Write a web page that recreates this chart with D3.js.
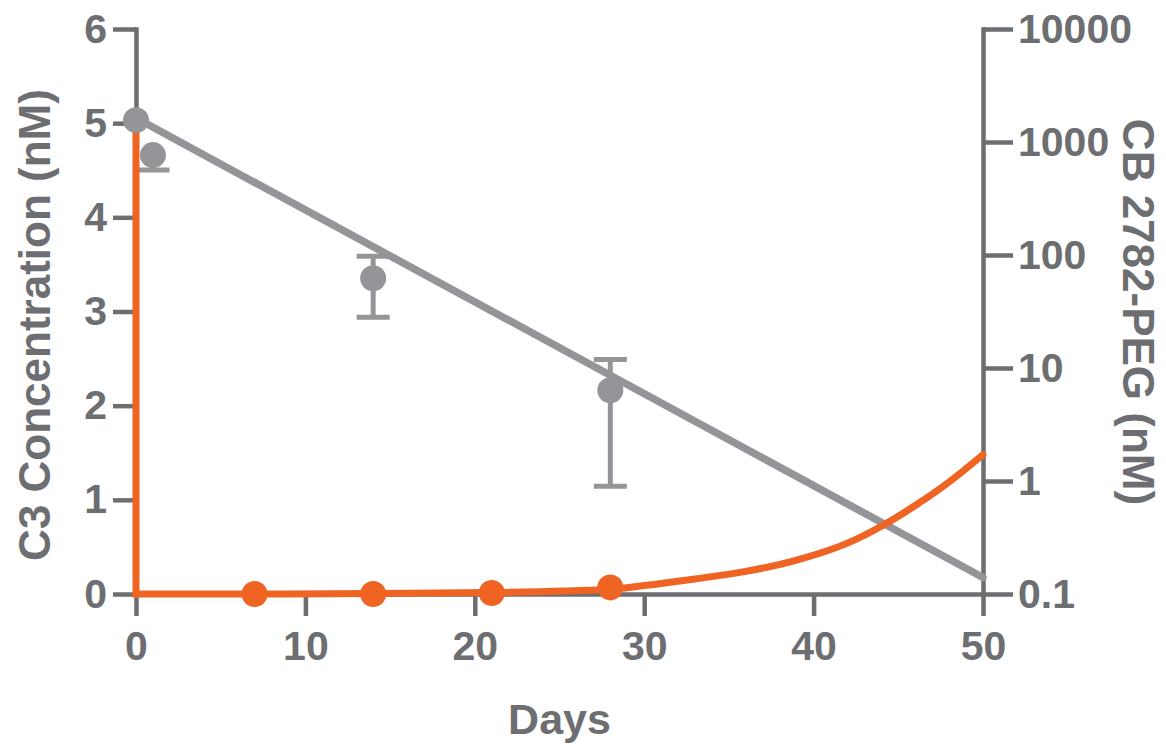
<!DOCTYPE html>
<html>
<head>
<meta charset="utf-8">
<script src="https://cdn.jsdelivr.net/npm/d3@7/dist/d3.min.js"></script>
<style>
  html, body { margin: 0; padding: 0; background: #ffffff; }
  svg { display: block; }
  text { font-family: "Liberation Sans", Arial, Helvetica, sans-serif; font-weight: bold; }
</style>
</head>
<body>
<svg id="chart" width="1166" height="745"></svg>
<script>
// ---------- DATA ----------
// CB 2782-PEG (right, log axis) measured points with error bars
const pegDays  = [0, 1, 14, 28];
const pegVals  = [1560, 766, 62.3, 6.35];
const pegLow   = [1560, 564, 28.1, 0.90];
const pegHigh  = [1560, 766, 97.6, 11.9];
// CB 2782-PEG fitted line (log-linear decay)
const pegFitDays = [0, 50];
const pegFitVals = [1629, 0.14];

// C3 concentration (left, linear axis) measured points
const c3Days = [7, 14, 21, 28];
const c3Vals = [0.0, 0.0, 0.01, 0.07];
// C3 fitted / connecting curve
const c3CurveDays = [0, 0, 7, 14, 21, 28, 30, 33, 36, 39, 42, 44, 46, 48, 50];
const c3CurveVals = [5.0, 0.0, 0.0, 0.005, 0.015, 0.05, 0.09, 0.16, 0.24, 0.36, 0.54, 0.72, 0.94, 1.19, 1.48];

// Axis ticks
const xTicks = [0, 10, 20, 30, 40, 50];
const leftTicks = [0, 1, 2, 3, 4, 5, 6];
const rightTicks = [0.1, 1, 10, 100, 1000, 10000];
const rightTickLabels = ["0.1", "1", "10", "100", "1000", "10000"];

// Titles
const xTitle = "Days";
const leftTitle = "C3 Concentration (nM)";
const rightTitle = "CB 2782-PEG (nM)";

// ---------- STYLE ----------
const AXIS = "#6d6e71";
const GRAY = "#939598";
const ORANGE = "#ef6423";

const svg = d3.select("#chart");
svg.append("rect").attr("width", 1166).attr("height", 745).attr("fill", "#fff");

const x = d3.scaleLinear().domain([0, 50]).range([136, 983]);
const yL = d3.scaleLinear().domain([0, 6]).range([594, 29]);
const yR = d3.scaleLog().domain([0.1, 10000]).range([594, 29]);

function styleAxis(g) {
  g.select(".domain").attr("stroke", AXIS).attr("stroke-width", 4.5).attr("stroke-linecap", "square");
  g.selectAll(".tick line").attr("stroke", AXIS).attr("stroke-width", 4.5);
  g.selectAll(".tick text").attr("fill", AXIS).style("font-size", "41px").style("font-weight", "bold")
    .style("font-family", '"Liberation Sans", Arial, sans-serif');
}

// X axis
const gx = svg.append("g").attr("transform", "translate(0,594)")
  .call(d3.axisBottom(x).tickValues(xTicks).tickSize(22).tickSizeOuter(0).tickPadding(15).tickFormat(d3.format("d")));
styleAxis(gx);

// Left axis
const gl = svg.append("g").attr("transform", "translate(136,0)")
  .call(d3.axisLeft(yL).tickValues(leftTicks).tickSize(23).tickSizeOuter(0).tickPadding(6).tickFormat(d3.format("d")));
styleAxis(gl);

// Right axis
const gr = svg.append("g").attr("transform", "translate(983,0)")
  .call(d3.axisRight(yR).tickValues(rightTicks).tickSize(30).tickSizeOuter(0).tickPadding(5)
    .tickFormat((d, i) => rightTickLabels[i]));
styleAxis(gr);

// Titles
svg.append("text").attr("x", (x(0) + x(50)) / 2).attr("y", 734)
  .attr("text-anchor", "middle").attr("fill", AXIS).style("font-size", "43px").text(xTitle);
svg.append("text").attr("transform", "translate(50,325) rotate(-90)")
  .attr("text-anchor", "middle").attr("fill", AXIS).style("font-size", "44px").text(leftTitle);
svg.append("text").attr("transform", "translate(1123,312) rotate(90)")
  .attr("text-anchor", "middle").attr("fill", AXIS).style("font-size", "44px").text(rightTitle);

// Gray fitted line
const fitPts = pegFitDays.map((d, i) => [d, pegFitVals[i]]);
svg.append("path")
  .attr("d", d3.line().x(d => x(d[0])).y(d => yR(d[1]))(fitPts))
  .attr("fill", "none").attr("stroke", GRAY).attr("stroke-width", 7.5).attr("stroke-linecap", "round");

// Gray error bars
const pegPts = pegDays.map((d, i) => ({ d, v: pegVals[i], lo: pegLow[i], hi: pegHigh[i] }));
const eb = svg.append("g").attr("stroke", GRAY).attr("stroke-width", 5).attr("fill", "none");
pegPts.forEach(p => {
  if (p.lo === p.hi) return;
  eb.append("line").attr("x1", x(p.d)).attr("x2", x(p.d)).attr("y1", yR(p.lo)).attr("y2", yR(p.hi));
  eb.append("line").attr("x1", x(p.d) - 16.5).attr("x2", x(p.d) + 16.5).attr("y1", yR(p.lo)).attr("y2", yR(p.lo));
  if (p.hi !== p.v)
    eb.append("line").attr("x1", x(p.d) - 16.5).attr("x2", x(p.d) + 16.5).attr("y1", yR(p.hi)).attr("y2", yR(p.hi));
});

// Orange curve: vertical drop (linear) + smooth rise
const c3Pts = c3CurveDays.map((d, i) => [d, c3CurveVals[i]]);
const lineLin = d3.line().x(d => x(d[0])).y(d => yL(d[1]));
const lineSmooth = d3.line().x(d => x(d[0])).y(d => yL(d[1])).curve(d3.curveMonotoneX);
svg.append("path").attr("d", lineLin(c3Pts.slice(0, 2)))
  .attr("fill", "none").attr("stroke", ORANGE).attr("stroke-width", 7).attr("stroke-linecap", "square");
svg.append("path").attr("d", lineSmooth(c3Pts.slice(1)))
  .attr("fill", "none").attr("stroke", ORANGE).attr("stroke-width", 7).attr("stroke-linecap", "round");

// Gray markers
svg.append("g").selectAll("circle").data(pegPts).join("circle")
  .attr("cx", p => x(p.d)).attr("cy", p => yR(p.v)).attr("r", 13).attr("fill", GRAY);

// Orange markers
svg.append("g").selectAll("circle").data(c3Days.map((d, i) => [d, c3Vals[i]])).join("circle")
  .attr("cx", d => x(d[0])).attr("cy", d => yL(d[1])).attr("r", 13).attr("fill", ORANGE);
</script>
</body>
</html>
